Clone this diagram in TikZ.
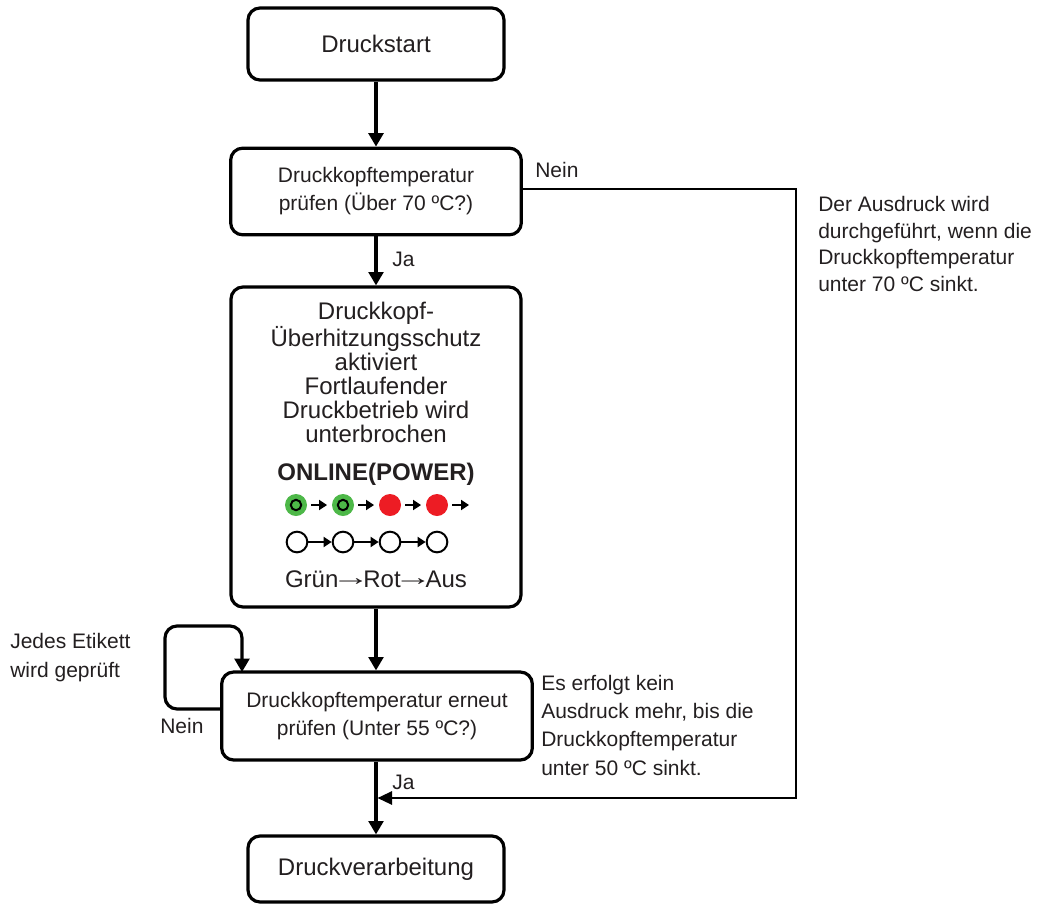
\documentclass[tikz,border=0pt]{standalone}
\usepackage{fontspec}
\setmainfont{Liberation Sans}
\usetikzlibrary{arrows.meta}
\definecolor{ink}{RGB}{35,31,32}
\definecolor{ledgreen}{RGB}{77,184,72}
\definecolor{ledred}{RGB}{237,28,36}
\newcommand\seqarrow{\hspace{-0.28em}\raisebox{0.08em}{\scalebox{1.6}[1]{→}}\hspace{-0.28em}}

\begin{document}
\begin{tikzpicture}[x=0.75pt,y=-0.75pt,
  box/.style={draw=black, line width=2.4pt, rounded corners=9pt, fill=white,
    inner sep=0pt, text=ink, align=center},
  flow/.style={line width=2.4pt, -{Triangle[length=10pt,width=11pt]}},
  thinflow/.style={line width=1.6pt, -{Triangle[length=11pt,width=10pt]}},
  big/.style={font=\fontsize{18}{18}\selectfont},
  mid/.style={font=\fontsize{15.75}{21}\selectfont},
  lbl/.style={text=ink, inner sep=0pt, align=left},
  ledarrow/.style={line width=1.4pt, -{Triangle[length=6pt,width=7.5pt]}},
  ledon/.style={circle, minimum size=16.5pt, inner sep=0pt},
  ledoff/.style={circle, draw=black, line width=1.5pt, fill=white,
    minimum size=15.5pt, inner sep=0pt},
]
\useasboundingbox (0,0) rectangle (1064,904);

% process boxes
\node[box, big, minimum width=192pt, minimum height=54pt] (start) at (376,44) {Druckstart};
\node[box, mid, minimum width=218pt, minimum height=65pt] (check1) at (376,191.5)
  {Druckkopftemperatur\\prüfen (Über 70 ºC?)};
\node[box, minimum width=217.5pt, minimum height=240pt] (protect) at (376,447) {};
\node[box, mid, minimum width=233pt, minimum height=66pt] (check2) at (377,716)
  {Druckkopftemperatur erneut\\prüfen (Unter 55 ºC?)};
\node[box, big, minimum width=192pt, minimum height=49.5pt] (print) at (376,869) {Druckverarbeitung};

% contents of the protection box (base = baseline of the last line)
\node[text=ink, inner sep=0pt, align=center, anchor=base,
  font=\fontsize{18}{18}\selectfont] (ptext) at (376,442)
  {Druckkopf-\\Überhitzungsschutz\\aktiviert\\Fortlaufender\\Druckbetrieb wird\\unterbrochen};
\node[text=ink, inner sep=0pt, anchor=base, font=\fontsize{18}{18}\selectfont\bfseries]
  (online) at (376,480) {ONLINE(POWER)};
\node[text=ink, inner sep=0pt, anchor=base, font=\fontsize{18}{18}\selectfont]
  (seq) at (376,587) {Grün\seqarrow Rot\seqarrow Aus};

% LED pattern, upper row
\node[ledon, fill=ledgreen] (g1) at (296,505) {};
\node[ledon, fill=ledgreen] (g2) at (343,505) {};
\node[ledon, fill=ledred] (r1) at (390,505) {};
\node[ledon, fill=ledred] (r2) at (437,505) {};
\draw[line width=1.5pt] (g1) circle[radius=5.2];
\draw[line width=1.5pt] (g2) circle[radius=5.2];
\coordinate (rowend) at (469,505);
\draw[ledarrow] ([xshift=3pt]g1.east) -- ([xshift=-3.5pt]g2.west);
\draw[ledarrow] ([xshift=3pt]g2.east) -- ([xshift=-3.5pt]r1.west);
\draw[ledarrow] ([xshift=3pt]r1.east) -- ([xshift=-3.5pt]r2.west);
\draw[ledarrow] ([xshift=3pt]r2.east) -- (rowend);

% LED pattern, lower row
\node[ledoff] (o1) at (297,542) {};
\node[ledoff] (o2) at (343,542) {};
\node[ledoff] (o3) at (390,542) {};
\node[ledoff] (o4) at (437,542) {};
\draw[ledarrow] (o1.east) -- (o2.west);
\draw[ledarrow] (o2.east) -- (o3.west);
\draw[ledarrow] (o3.east) -- (o4.west);

% main flow
\draw[flow] (start) -- (check1);
\draw[flow] (check1) -- (protect);
\draw[flow] (protect.south) -- (protect.south |- check2.north);
\draw[flow] (check2.south -| protect.south) -- (print);

% bypass when the head is not too hot
\coordinate (bypassR) at (796,798);
\coordinate (join) at (377.5,798);
\draw[thinflow] (check1.east |- 0,189) -| (bypassR) -- (join);

% repeated check loop
\coordinate (loopL) at (165,626);
\coordinate (loopT) at (242,672);
\draw[flow, rounded corners=9pt] (check2.west |- 0,709) -| (loopL) -| (loopT);

% labels
\node[lbl, mid, anchor=base west] (nein1) at (535,177) {Nein};
\node[lbl, mid, anchor=base west] (ja1) at (392,266) {Ja};
\node[lbl, mid, anchor=base west] (ja2) at (392,789) {Ja};
\node[lbl, mid, anchor=base west] (nein2) at (160,733) {Nein};
\node[lbl, anchor=base west, font=\fontsize{15.75}{19.9}\selectfont] (note1) at (818,291.5)
  {Der Ausdruck wird\\durchgeführt, wenn die\\Druckkopftemperatur\\unter 70 ºC sinkt.};
\node[lbl, anchor=base west, font=\fontsize{15.75}{21.25}\selectfont] (note2) at (541,775)
  {Es erfolgt kein\\Ausdruck mehr, bis die\\Druckkopftemperatur\\unter 50 ºC sinkt.};
\node[lbl, anchor=base west, font=\fontsize{15.75}{21.75}\selectfont] (note3) at (10,677)
  {Jedes Etikett\\wird geprüft};
\end{tikzpicture}
\end{document}
